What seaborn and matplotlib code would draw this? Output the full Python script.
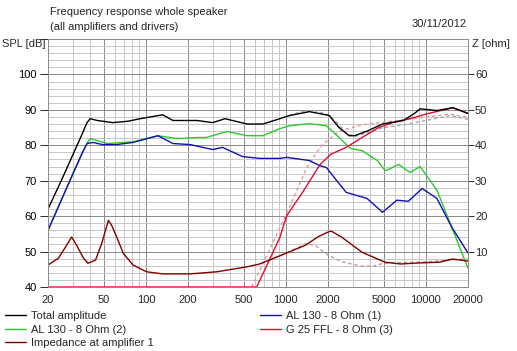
import matplotlib
matplotlib.use("Agg")
import matplotlib.pyplot as plt
import seaborn as sns
from matplotlib.ticker import FixedLocator, NullFormatter

sns.set_style("white")
plt.rcParams['font.family'] = ['Liberation Sans', 'DejaVu Sans']

# ---------------- data ----------------
freq_total = [20, 25, 30, 35, 38, 40, 45, 58, 75, 91, 132, 156, 232, 300, 368, 529, 686, 906,
              1063, 1473, 2042, 2400, 2830, 3100, 3800, 4900, 6900, 8300, 9100, 12000, 15600, 20000]
spl_total = [62, 70.2, 77.2, 83.1, 86.4, 87.5, 87, 86.4, 86.8, 87.5, 88.6, 87, 87, 86.4, 87.5, 86, 86, 87.5,
             88.4, 89.5, 88.4, 85, 82.7, 82.7, 84, 86, 87, 89, 90.3, 89.8, 90.6, 89]

freq_al1 = [20, 25, 30, 35, 38, 42, 49, 62, 81, 122, 156, 207, 300, 353, 492, 651, 906, 1010, 1470,
            1740, 1950, 2300, 2700, 3800, 4900, 6200, 7500, 9400, 12000, 15300, 20000]
spl_al1 = [56, 64.7, 71.8, 77.7, 80.5, 80.8, 80.2, 80.2, 80.8, 82.7, 80.5, 80.2, 78.8, 79.4, 76.8, 76.3,
           76.3, 76.6, 75.7, 74.3, 73.7, 70.1, 66.7, 65, 61.1, 64.5, 64.2, 67.8, 65, 56.9, 49.6]

freq_al2 = [20, 25, 30, 35, 38, 40, 53, 81, 122, 167, 232, 270, 380, 529, 686, 906, 1060, 1470, 1950,
            2400, 2900, 3500, 4500, 5100, 5300, 6400, 7700, 9100, 12000, 14800, 20000]
spl_al2 = [56, 64.7, 71.8, 77.7, 80.5, 81.9, 80.5, 81, 82.7, 81.9, 82.2, 82.2, 83.9, 82.7, 82.7, 84.7,
           85.5, 86.1, 85.5, 82.2, 79.1, 78.5, 75.7, 72.9, 73, 74.6, 72.3, 74, 67.3, 58.3, 45.3]

freq_g25 = [20, 500, 619, 762, 906, 1010, 1330, 1750, 2100, 2700, 3500, 4600, 5800, 7700, 10200, 15600, 20000]
spl_g25 = [40, 40, 40, 47.6, 54, 60, 67, 74.5, 77.5, 79.4, 82.2, 85, 86.4, 87.5, 88.9, 90.6, 89]

freq_g25_alt = [571, 762, 1060, 1400, 1800, 2400, 3500, 5000, 7000, 10000, 15000, 20000]
spl_g25_alt = [40, 50.4, 62.5, 73.5, 80, 84, 85.8, 86.5, 87.2, 88, 88.8, 87.8]

freq_total_alt = [1060, 1300, 1600, 2000, 2300, 2700, 3100, 3800, 5000, 7000, 10000, 15000, 20000]
spl_total_alt = [88.4, 89.5, 89.8, 88.6, 86.5, 83.5, 82.5, 83.5, 85, 85.8, 87, 88.4, 87.3]

freq_imp = [20, 23.7, 26.3, 29.5, 32, 35.9, 38.6, 43.7, 48.4, 54, 57, 61.9, 69, 81, 101, 132, 207, 322,
            529, 650, 762, 1000, 1380, 1720, 2000, 2100, 2500, 3500, 5100, 6600, 9100, 12500, 15500, 20000]
z_imp = [6.2, 8.1, 10.9, 14.1, 11.8, 8.1, 6.7, 7.6, 12.3, 18.8, 17.4, 14.1, 9.5, 6.2, 4.3, 3.7, 3.7, 4.3,
         5.7, 6.5, 7.6, 9.5, 11.8, 14.3, 15.5, 15.8, 14.1, 9.8, 7, 6.5, 6.8, 7, 7.9, 7.3]

freq_imp_alt = [762, 1060, 1400, 1650, 2000, 2500, 3400, 4200, 5000, 10000, 18500, 20000]
z_imp_alt = [7.6, 10, 12.3, 11.5, 9, 7.2, 5.9, 5.9, 6.7, 7.1, 7.9, 7.9]

x_ticks = [20, 50, 100, 200, 500, 1000, 2000, 5000, 10000, 20000]
spl_ticks = [40, 50, 60, 70, 80, 90, 100]
z_ticks = [10, 20, 30, 40, 50, 60]

# ---------------- figure ----------------
W, H = 517, 351
fig = plt.figure(figsize=(W / 100, H / 100), dpi=100)
fig.patch.set_facecolor('white')
ax = fig.add_axes([48 / W, 1 - 287 / H, 420 / W, 248 / H])
ax.set_xscale('log')
ax.set_xlim(20, 20000)
ax.set_ylim(40, 110)

ax2 = ax.twinx()
ax2.set_ylim(0, 70)

lw = 1.0
dash = (0, (2.5, 2))
sns.lineplot(x=freq_imp_alt, y=z_imp_alt, ax=ax2, color='#c09a9a', lw=lw, linestyle=dash, legend=False)
sns.lineplot(x=freq_total_alt, y=spl_total_alt, ax=ax, color='#a8a8a8', lw=lw, linestyle=dash, legend=False)
sns.lineplot(x=freq_g25_alt, y=spl_g25_alt, ax=ax, color='#e39a9a', lw=lw, linestyle=dash, legend=False)

sns.lineplot(x=freq_imp, y=z_imp, ax=ax2, color='#800000', lw=lw, legend=False)
sns.lineplot(x=freq_al2, y=spl_al2, ax=ax, color='#2ec82e', lw=lw, legend=False)
sns.lineplot(x=freq_al1, y=spl_al1, ax=ax, color='#1010b4', lw=lw, legend=False)
sns.lineplot(x=freq_g25, y=spl_g25, ax=ax, color='#dc1030', lw=lw, legend=False)
sns.lineplot(x=freq_total, y=spl_total, ax=ax, color='black', lw=lw, legend=False)

# grid
minor_x = [m * 10 ** k for k in range(1, 5) for m in range(1, 10)]
minor_x = [v for v in minor_x if 20 <= v <= 20000 and v not in x_ticks]
ax.xaxis.set_major_locator(FixedLocator(x_ticks))
ax.xaxis.set_minor_locator(FixedLocator(minor_x))
ax.xaxis.set_minor_formatter(NullFormatter())
ax.set_xticklabels([str(v) for v in x_ticks])
ax.yaxis.set_major_locator(FixedLocator(spl_ticks + [110]))
ax.yaxis.set_minor_locator(FixedLocator([v for v in range(42, 110, 2) if v % 10]))
ax.set_yticklabels([str(v) for v in spl_ticks] + [''])
ax.grid(True, which='major', color='#8c8c8c', lw=0.72)
ax.grid(True, which='minor', color='#c8c8c8', lw=0.72)
ax.set_axisbelow(True)

fs = 8
ax.tick_params(axis='both', which='minor', length=0)
ax.tick_params(axis='y', which='major', length=6, width=0.72, color='#303030', pad=2, labelsize=fs, colors='black')
ax.tick_params(axis='x', which='major', length=4, width=0.72, color='#303030', pad=1.5, labelsize=fs)
ax.set_xlabel('')
ax.set_ylabel('')

ax2.yaxis.set_major_locator(FixedLocator(z_ticks))
ax2.set_yticklabels([str(v) for v in z_ticks])
ax2.tick_params(axis='y', which='major', length=4, width=0.72, color='#303030', pad=1, labelsize=fs)
ax2.tick_params(axis='y', which='minor', length=0)
ax2.set_ylabel('')
ax2.grid(False)

for a in (ax, ax2):
    for s in a.spines.values():
        s.set_color('#8c8c8c')
        s.set_linewidth(0.72)

# texts
def fx(px):
    return px / W

def fy(py):
    return 1 - py / H

fig.text(fx(50), fy(12), 'Frequency response whole speaker', fontsize=fs, va='center', ha='left')
fig.text(fx(50), fy(27), '(all amplifiers and drivers)', fontsize=fs, va='center', ha='left')
fig.text(fx(467), fy(24), '30/11/2012', fontsize=fs, va='center', ha='right')
fig.text(fx(2), fy(44), 'SPL [dB]', fontsize=fs, va='center', ha='left')
fig.text(fx(472), fy(44), 'Z [ohm]', fontsize=fs, va='center', ha='left')

# legends
h_total = ax.get_lines()[-1]
h_g25 = ax.get_lines()[-2]
h_al1 = ax.get_lines()[-3]
h_al2 = ax.get_lines()[-4]
h_imp = ax2.get_lines()[-1]

leg_kw = dict(frameon=False, fontsize=fs, handlelength=1.9, handletextpad=0.4,
              labelspacing=0.32, borderpad=0, borderaxespad=0, loc='upper left')
fig.legend([h_total, h_al2, h_imp],
           ['Total amplitude', 'AL 130 - 8 Ohm (2)', 'Impedance at amplifier 1'],
           bbox_to_anchor=(fx(5), fy(311)), **leg_kw)
fig.legend([h_al1, h_g25],
           ['AL 130 - 8 Ohm (1)', 'G 25 FFL - 8 Ohm (3)'],
           bbox_to_anchor=(fx(260), fy(311)), **leg_kw)

fig.savefig('out.png', dpi=100, facecolor='white')
